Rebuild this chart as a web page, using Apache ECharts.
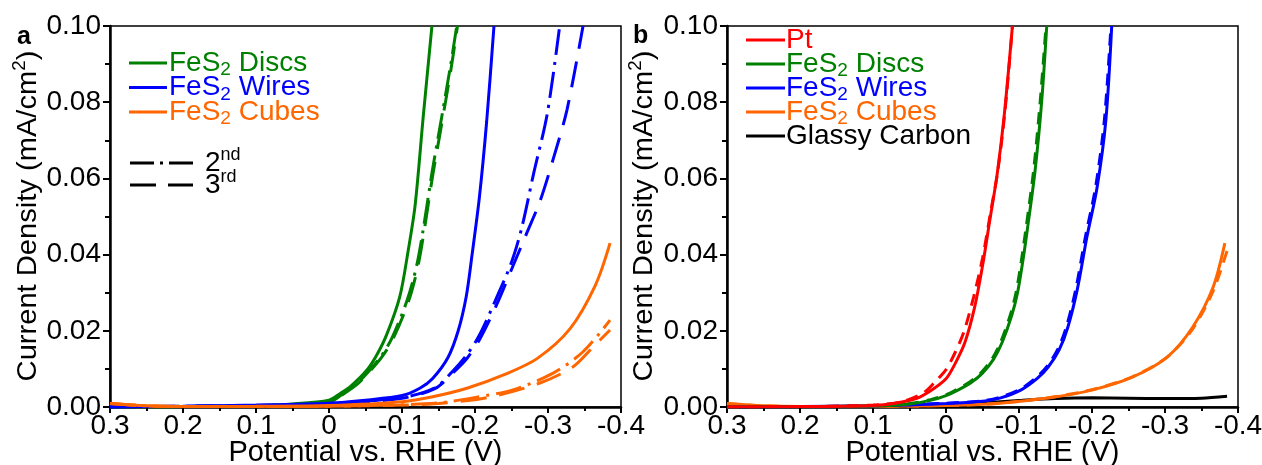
<!DOCTYPE html>
<html>
<head>
<meta charset="utf-8">
<script src="https://cdn.jsdelivr.net/npm/echarts@6/dist/echarts.min.js"></script>
<style>
  html, body { margin: 0; padding: 0; background: #fff; }
  #chart { width: 1262px; height: 465px; }
</style>
</head>
<body>
<div id="chart"></div>
<script>
// Polarisation curves: [potential vs. RHE (V), current density (mA/cm2)]
// Panel a — cycling of each FeS2 morphology (1st solid, 2nd dash-dot, 3rd dashed)
const discsA1 = [[0.3,0],[0.2,0.0001],[0.1,0.0004],[0.05,0.0008],[0,0.0018],[-0.015,0.0035],[-0.03,0.0055],[-0.052,0.0097],[-0.065,0.0135],[-0.079,0.019],[-0.097,0.029],[-0.108,0.0405],[-0.118,0.053],[-0.129,0.0760],[-0.141,0.1]];
const discsA2 = [[0.3,0],[0.2,0.0001],[0.1,0.0003],[0.05,0.0006],[0,0.0012],[-0.019,0.0035],[-0.04,0.0065],[-0.056,0.0097],[-0.072,0.0135],[-0.086,0.018],[-0.107,0.028],[-0.12,0.037],[-0.129,0.0465],[-0.141,0.0614],[-0.152,0.0735],[-0.166,0.089],[-0.175,0.1]];
const discsA3 = [[0.3,0],[0.2,0.0001],[0.1,0.0003],[0.05,0.0006],[0,0.0011],[-0.019,0.0033],[-0.04,0.0062],[-0.056,0.0094],[-0.072,0.013],[-0.087,0.0176],[-0.108,0.0272],[-0.121,0.0362],[-0.13,0.0458],[-0.142,0.0607],[-0.153,0.0728],[-0.167,0.0885],[-0.176,0.1]];
const wiresA1 = [[0.3,0],[0.2,0.0002],[0.1,0.0005],[0,0.001],[-0.05,0.0018],[-0.1,0.003],[-0.125,0.005],[-0.142,0.0075],[-0.163,0.013],[-0.177,0.02],[-0.188,0.029],[-0.196,0.04],[-0.206,0.055],[-0.216,0.075],[-0.226,0.1]];
const wiresA2 = [[0.3,0],[0.2,0.0002],[0.1,0.0004],[0,0.0009],[-0.1,0.0025],[-0.145,0.005],[-0.17,0.0095],[-0.188,0.0135],[-0.205,0.0185],[-0.228,0.028],[-0.25,0.038],[-0.264,0.047],[-0.28,0.061],[-0.299,0.077],[-0.316,0.1]];
const wiresA3 = [[0.3,0],[0.2,0.0002],[0.1,0.0003],[0,0.0008],[-0.1,0.0023],[-0.145,0.0048],[-0.17,0.009],[-0.19,0.013],[-0.207,0.018],[-0.23,0.027],[-0.252,0.037],[-0.271,0.0457],[-0.289,0.054],[-0.307,0.065],[-0.326,0.078],[-0.348,0.1]];
const cubesA1 = [[0.3,0.0009],[0.25,0.0003],[0.2,0.0001],[0.1,0.0002],[0,0.0004],[-0.1,0.0014],[-0.142,0.0027],[-0.19,0.005],[-0.24,0.0085],[-0.285,0.0127],[-0.33,0.0205],[-0.365,0.032],[-0.385,0.043]];
const cubesA2 = [[0.3,0.0009],[0.25,0.0003],[0.2,0.0001],[0.1,0.0001],[0,0.0002],[-0.1,0.0006],[-0.152,0.0011],[-0.197,0.0024],[-0.252,0.0045],[-0.307,0.0089],[-0.348,0.0145],[-0.385,0.0228]];
const cubesA3 = [[0.3,0.0009],[0.25,0.0003],[0.2,0.0001],[0.1,0.0001],[0,0.0002],[-0.1,0.0005],[-0.15,0.0009],[-0.22,0.0026],[-0.289,0.0063],[-0.334,0.0105],[-0.362,0.0158],[-0.385,0.0202]];

// Panel b — catalysts compared with Pt and bare glassy carbon (solid and dashed runs)
const ptB1 = [[0.3,0],[0.2,0.0001],[0.1,0.0004],[0.07,0.001],[0.04,0.0023],[0.02,0.0044],[0,0.0074],[-0.012,0.0112],[-0.026,0.017],[-0.039,0.026],[-0.05,0.037],[-0.06,0.049],[-0.07,0.061],[-0.08,0.077],[-0.091,0.1]];
const ptB2 = [[0.3,0],[0.2,0.0001],[0.1,0.0005],[0.06,0.0014],[0.031,0.0037],[0.015,0.0066],[0,0.0098],[-0.013,0.0145],[-0.025,0.02],[-0.038,0.029],[-0.05,0.039],[-0.061,0.051],[-0.071,0.062],[-0.081,0.078],[-0.091,0.1]];
const discsB1 = [[0.3,0],[0.2,0.0001],[0.1,0.0003],[0.05,0.0008],[0.02,0.0018],[0,0.003],[-0.017,0.0045],[-0.035,0.0065],[-0.05,0.0089],[-0.065,0.0125],[-0.077,0.017],[-0.09,0.024],[-0.098,0.03],[-0.105,0.038],[-0.111,0.046],[-0.122,0.062],[-0.131,0.08],[-0.138,0.1]];
const discsB2 = [[0.3,0],[0.2,0.0001],[0.1,0.0003],[0.05,0.0009],[0.02,0.002],[0,0.0032],[-0.015,0.0046],[-0.033,0.0066],[-0.048,0.009],[-0.063,0.0126],[-0.075,0.0171],[-0.088,0.0241],[-0.096,0.0301],[-0.103,0.0381],[-0.109,0.0461],[-0.12,0.0621],[-0.129,0.0801],[-0.137,0.1]];
const wiresB1 = [[0.3,0],[0.2,0.0001],[0.1,0.0003],[0,0.0009],[-0.05,0.0015],[-0.075,0.0024],[-0.103,0.0045],[-0.125,0.0075],[-0.14,0.0105],[-0.155,0.015],[-0.167,0.021],[-0.18,0.031],[-0.193,0.0446],[-0.207,0.0577],[-0.219,0.0753],[-0.227,0.1]];
const wiresB2 = [[0.3,0],[0.2,0.0001],[0.1,0.0003],[0,0.001],[-0.05,0.0016],[-0.073,0.0025],[-0.101,0.0046],[-0.123,0.0076],[-0.138,0.0106],[-0.153,0.0151],[-0.165,0.0211],[-0.178,0.0311],[-0.191,0.0447],[-0.205,0.0578],[-0.217,0.0754],[-0.226,0.1]];
const cubesB1 = [[0.3,0.0009],[0.25,0.0003],[0.2,0.0001],[0.1,0.0002],[0,0.0004],[-0.074,0.001],[-0.142,0.0024],[-0.201,0.0045],[-0.256,0.0079],[-0.303,0.0131],[-0.338,0.021],[-0.366,0.0315],[-0.382,0.043]];
const cubesB2 = [[0.3,0.0009],[0.25,0.0003],[0.2,0.0001],[0.1,0.0002],[0,0.0004],[-0.074,0.001],[-0.142,0.0025],[-0.201,0.0046],[-0.256,0.0080],[-0.303,0.0131],[-0.338,0.0205],[-0.366,0.0305],[-0.385,0.041]];
const glassyB = [[0.3,0],[0.2,0.0001],[0.1,0.0002],[0,0.0006],[-0.05,0.0011],[-0.1,0.0017],[-0.15,0.0022],[-0.2,0.0024],[-0.25,0.0023],[-0.3,0.0022],[-0.35,0.0023],[-0.385,0.0028]];

// Axis ticks and labels
const xTickMin = -0.4, xTickMax = 0.3, xTickStep = 0.1;
const yTickMin = 0, yTickMax = 0.1, yTickStep = 0.02;
const xTitle = 'Potential vs. RHE (V)';
const yTitle = 'Current Density (mA/cm{sup|2})';
const panelLabels = ['a', 'b'];

// Legend entries
const legendA = [
  { label: 'FeS{sub|2} Discs', color: '#008000' },
  { label: 'FeS{sub|2} Wires', color: '#0000ff' },
  { label: 'FeS{sub|2} Cubes', color: '#ff6600' }
];
const cycleLegend = [
  { label: '2{sup|nd}', dash: [24, 6, 3, 6] },
  { label: '3{sup|rd}', dash: [26, 12] }
];
const legendB = [
  { label: 'Pt', color: '#ff0000' },
  { label: 'FeS{sub|2} Discs', color: '#008000' },
  { label: 'FeS{sub|2} Wires', color: '#0000ff' },
  { label: 'FeS{sub|2} Cubes', color: '#ff6600' },
  { label: 'Glassy Carbon', color: '#000000' }
];

const FONT = "'Liberation Sans', Arial, sans-serif";
const DASH_DOT = [26, 7, 3, 7];
const DASHED_A = [26, 13];
const DASHED_B = [12, 8];

function fmtX(v) {
  if (Math.abs(v) < 1e-9) return '0';
  return v.toFixed(1);
}

function xAxisFor(gi) {
  return {
    type: 'value', gridIndex: gi, inverse: true,
    min: xTickMin, max: xTickMax, interval: xTickStep,
    axisLine: { show: true, onZero: false, lineStyle: { color: '#000', width: 2.5 } },
    axisTick: { show: true, length: 6, lineStyle: { color: '#000', width: 2 } },
    minorTick: { show: true, splitNumber: 2, length: 4, lineStyle: { color: '#000', width: 2 } },
    splitLine: { show: false },
    axisLabel: { color: '#000', fontSize: 28, fontFamily: FONT, margin: 5, formatter: fmtX, hideOverlap: false },
    name: xTitle, nameLocation: 'middle', nameGap: 31, nameMoveOverlap: false,
    nameTextStyle: { color: '#000', fontSize: 29, fontFamily: FONT }
  };
}

function yAxisFor(gi) {
  return {
    type: 'value', gridIndex: gi,
    min: yTickMin, max: yTickMax, interval: yTickStep,
    axisLine: { show: true, onZero: false, lineStyle: { color: '#000', width: 2.5 } },
    axisTick: { show: true, length: 7, lineStyle: { color: '#000', width: 2 } },
    minorTick: { show: true, splitNumber: 2, length: 5, lineStyle: { color: '#000', width: 2 } },
    splitLine: { show: false },
    axisLabel: { color: '#000', fontSize: 28, fontFamily: FONT, margin: 9, formatter: v => v.toFixed(2), hideOverlap: false }
  };
}

function line(name, data, color, gi, dash) {
  return {
    name, type: 'line', data, xAxisIndex: gi, yAxisIndex: gi,
    showSymbol: false, smooth: 0.3, clip: true,
    lineStyle: { color, width: 3, type: dash || 'solid' },
    itemStyle: { color }, silent: true, animation: false
  };
}

const series = [
  line('Discs 1st', discsA1, '#008000', 0),
  line('Discs 2nd', discsA2, '#008000', 0, DASH_DOT),
  line('Discs 3rd', discsA3, '#008000', 0, DASHED_A),
  line('Wires 1st', wiresA1, '#0000ff', 0),
  line('Wires 2nd', wiresA2, '#0000ff', 0, DASH_DOT),
  line('Wires 3rd', wiresA3, '#0000ff', 0, DASHED_A),
  line('Cubes 1st', cubesA1, '#ff6600', 0),
  line('Cubes 2nd', cubesA2, '#ff6600', 0, DASH_DOT),
  line('Cubes 3rd', cubesA3, '#ff6600', 0, DASHED_A),
  line('Glassy Carbon', glassyB, '#000000', 1),
  line('Cubes', cubesB1, '#ff6600', 1),
  line('Cubes after', cubesB2, '#ff6600', 1, DASHED_B),
  line('Wires', wiresB1, '#0000ff', 1),
  line('Wires after', wiresB2, '#0000ff', 1, DASHED_B),
  line('Discs', discsB1, '#008000', 1),
  line('Discs after', discsB2, '#008000', 1, DASHED_B),
  line('Pt', ptB1, '#ff0000', 1),
  line('Pt after', ptB2, '#ff0000', 1, DASHED_B)
];

// Legend drawn as graphic rows: a short line sample followed by rich text
const richScripts = (color, size) => ({
  sub: { fill: color, fontSize: 19, fontFamily: FONT, padding: [14, 0, 0, 0] },
  sup: { fill: color, fontSize: size || 18, fontFamily: FONT, padding: [0, 0, 16, 0] }
});

function legendRow(x1, x2, tx, y, color, label, dash) {
  return [
    { type: 'line', shape: { x1, y1: y, x2, y2: y }, silent: true,
      style: { stroke: color, lineWidth: 3, lineDash: dash || null } },
    { type: 'text', x: tx, y, silent: true,
      style: { text: label, fill: color, fontSize: 28, fontFamily: FONT,
               verticalAlign: 'middle', align: 'left', rich: richScripts(color) } }
  ];
}

// Vertical y-axis title, centred on the given point
function yTitleText(cx, cy) {
  return {
    type: 'text', x: cx, y: cy, rotation: Math.PI / 2, scaleX: 1.04, silent: true,
    style: { text: yTitle, fill: '#000', fontSize: 28, fontFamily: FONT,
             align: 'center', verticalAlign: 'middle', rich: richScripts('#000', 18) }
  };
}

const graphic = [];
legendA.forEach((e, i) => graphic.push(...legendRow(129, 167, 169, 63 + i * 24.5, e.color, e.label)));
cycleLegend.forEach((e, i) => graphic.push(...legendRow(130, 193, 205, 163 + i * 22, '#000', e.label, e.dash)));
legendB.forEach((e, i) => graphic.push(...legendRow(746, 785, 786, 40 + i * 24, e.color, e.label)));
graphic.push(yTitleText(28, 216), yTitleText(644, 216));
graphic.push(
  { type: 'text', x: 17, y: 37, silent: true,
    style: { text: panelLabels[0], fill: '#000', fontSize: 25, fontWeight: 'bold', fontFamily: FONT, verticalAlign: 'middle' } },
  { type: 'text', x: 633, y: 36, silent: true,
    style: { text: panelLabels[1], fill: '#000', fontSize: 25, fontWeight: 'bold', fontFamily: FONT, verticalAlign: 'middle' } }
);

const gridBase = { top: 26, width: 511, height: 381, show: true, borderColor: '#000', borderWidth: 1.5,
                   containLabel: false, outerBoundsMode: 'none' };

const chart = echarts.init(document.getElementById('chart'), null, { renderer: 'canvas' });
chart.setOption({
  backgroundColor: '#fff',
  animation: false,
  textStyle: { fontFamily: FONT },
  grid: [
    Object.assign({ left: 110 }, gridBase),
    Object.assign({ left: 727 }, gridBase)
  ],
  xAxis: [xAxisFor(0), xAxisFor(1)],
  yAxis: [yAxisFor(0), yAxisFor(1)],
  series,
  graphic
});
</script>
</body>
</html>
